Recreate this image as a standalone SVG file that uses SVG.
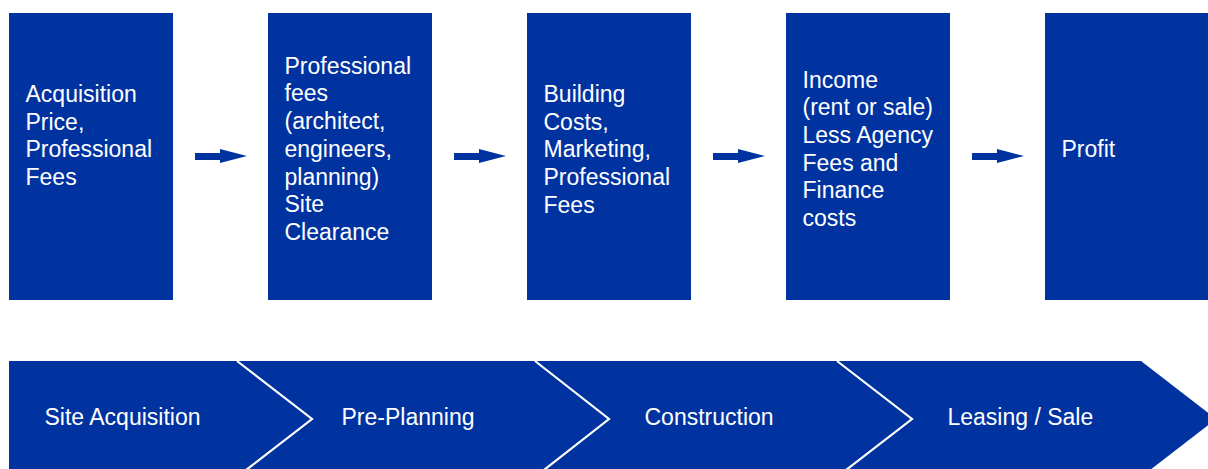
<svg xmlns="http://www.w3.org/2000/svg" width="1208" height="469" viewBox="0 0 1208 469">
<style>
.box{fill:#0033A0}
.t{font-family:"Liberation Sans",Arial,sans-serif;font-size:23px;fill:#ffffff}
.arrow{fill:#0033A0}
.sep{fill:none;stroke:#ffffff;stroke-width:2.2}
</style>
<rect width="1208" height="469" fill="#ffffff"/>
<g id="node-acquisition">
<rect class="box" x="9" y="13" width="164" height="287"/>
<text class="t" x="25.5" y="102">Acquisition</text>
<text class="t" x="25.5" y="130">Price,</text>
<text class="t" x="25.5" y="157">Professional</text>
<text class="t" x="25.5" y="185">Fees</text>
</g>
<g id="node-professional">
<rect class="box" x="268" y="13" width="164" height="287"/>
<text class="t" x="284.5" y="74">Professional</text>
<text class="t" x="284.5" y="101">fees</text>
<text class="t" x="284.5" y="129">(architect,</text>
<text class="t" x="284.5" y="157">engineers,</text>
<text class="t" x="284.5" y="185">planning)</text>
<text class="t" x="284.5" y="212">Site</text>
<text class="t" x="284.5" y="240">Clearance</text>
</g>
<g id="node-building">
<rect class="box" x="527" y="13" width="164" height="287"/>
<text class="t" x="543.5" y="102">Building</text>
<text class="t" x="543.5" y="130">Costs,</text>
<text class="t" x="543.5" y="157">Marketing,</text>
<text class="t" x="543.5" y="185">Professional</text>
<text class="t" x="543.5" y="213">Fees</text>
</g>
<g id="node-income">
<rect class="box" x="786" y="13" width="164" height="287"/>
<text class="t" x="802.5" y="88">Income</text>
<text class="t" x="802.5" y="115">(rent or sale)</text>
<text class="t" x="802.5" y="143">Less Agency</text>
<text class="t" x="802.5" y="171">Fees and</text>
<text class="t" x="802.5" y="198">Finance</text>
<text class="t" x="802.5" y="226">costs</text>
</g>
<g id="node-profit">
<rect class="box" x="1045" y="13" width="170" height="287"/>
<text class="t" x="1061.5" y="157">Profit</text>
</g>
<g id="connectors">
<path class="arrow" d="M195,153 H220 V149 L247,156 L220,163 V160 H195 Z"/>
<path class="arrow" d="M454,153 H479 V149 L506,156 L479,163 V160 H454 Z"/>
<path class="arrow" d="M713,153 H738 V149 L765,156 L738,163 V160 H713 Z"/>
<path class="arrow" d="M972,153 H997 V149 L1024,156 L997,163 V160 H972 Z"/>
</g>
<g id="phases">
<polygon class="box" points="9,361 1141,361 1216,419 1141,477 9,477"/>
<polyline class="sep" points="237,361 312,419 237,477"/>
<polyline class="sep" points="535,361 609,419 535,477"/>
<polyline class="sep" points="837,361 912,419 837,477"/>
<text class="t" x="44.5" y="425">Site Acquisition</text>
<text class="t" x="341.5" y="425">Pre-Planning</text>
<text class="t" x="644.5" y="425">Construction</text>
<text class="t" x="947.5" y="425">Leasing / Sale</text>
</g>
</svg>
